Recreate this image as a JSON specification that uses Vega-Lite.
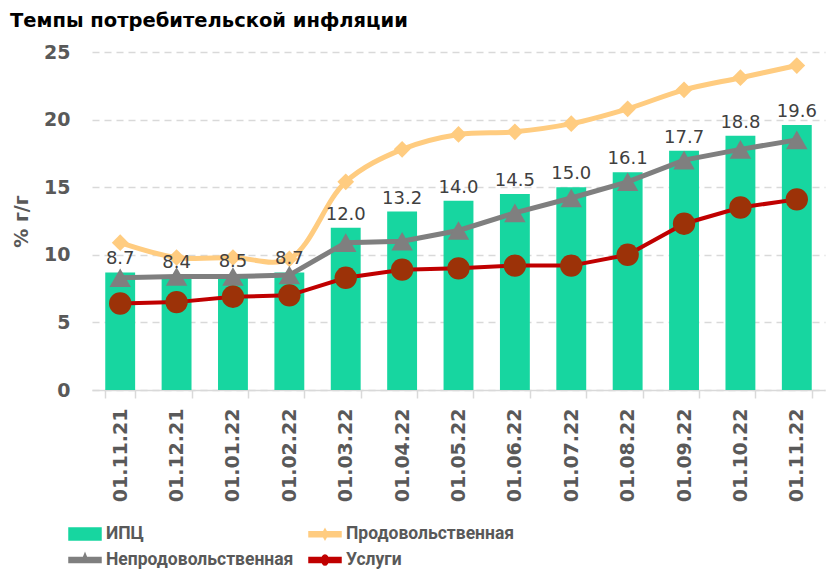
{
  "$schema": "https://vega.github.io/schema/vega-lite/v6.json",
  "width": 733,
  "height": 338,
  "autosize": {"type": "none"},
  "padding": {"left": 92, "top": 52, "right": 2, "bottom": 181},
  "background": "white",
  "title": {
    "text": "Темпы потребительской инфляции",
    "anchor": "start",
    "frame": "group",
    "dx": -82,
    "dy": 10,
    "offset": 22,
    "font": "DejaVu Sans",
    "fontSize": 19.5,
    "fontWeight": "bold",
    "color": "#000000"
  },
  "data": {
    "values": [
      {"d": "01.11.21", "cpi": 8.7, "food": 10.9, "nonfood": 8.3, "serv": 6.4},
      {"d": "01.12.21", "cpi": 8.4, "food": 9.8, "nonfood": 8.4, "serv": 6.5},
      {"d": "01.01.22", "cpi": 8.5, "food": 9.8, "nonfood": 8.4, "serv": 6.9},
      {"d": "01.02.22", "cpi": 8.7, "food": 9.7, "nonfood": 8.5, "serv": 7.0},
      {"d": "01.03.22", "cpi": 12.0, "food": 15.4, "nonfood": 10.9, "serv": 8.3},
      {"d": "01.04.22", "cpi": 13.2, "food": 17.8, "nonfood": 11.0, "serv": 8.9},
      {"d": "01.05.22", "cpi": 14.0, "food": 18.9, "nonfood": 11.8, "serv": 9.0},
      {"d": "01.06.22", "cpi": 14.5, "food": 19.1, "nonfood": 13.1, "serv": 9.2},
      {"d": "01.07.22", "cpi": 15.0, "food": 19.7, "nonfood": 14.2, "serv": 9.2},
      {"d": "01.08.22", "cpi": 16.1, "food": 20.8, "nonfood": 15.4, "serv": 10.0},
      {"d": "01.09.22", "cpi": 17.7, "food": 22.2, "nonfood": 17.0, "serv": 12.3},
      {"d": "01.10.22", "cpi": 18.8, "food": 23.1, "nonfood": 17.8, "serv": 13.5},
      {"d": "01.11.22", "cpi": 19.6, "food": 24.0, "nonfood": 18.5, "serv": 14.1}
    ]
  },
  "encoding": {
    "x": {
      "field": "d",
      "type": "ordinal",
      "sort": null,
      "scale": {"paddingInner": 0.47, "paddingOuter": 0.235},
      "axis": {
        "title": null,
        "labelAngle": 270,
        "labelFont": "DejaVu Sans",
        "labelFontSize": 19,
        "labelFontWeight": "bold",
        "labelColor": "#595959",
        "labelPadding": 10,
        "tickBand": "extent",
        "tickSize": 8,
        "tickColor": "#D9D9D9",
        "tickWidth": 1.5,
        "domainColor": "#D9D9D9",
        "domainWidth": 1.5,
        "grid": false
      }
    }
  },
  "layer": [
    {
      "mark": {"type": "bar"},
      "encoding": {
        "y": {
          "field": "cpi",
          "type": "quantitative",
          "scale": {"domain": [0, 25], "nice": false},
          "axis": {
            "title": "% г/г",
            "values": [0, 5, 10, 15, 20, 25],
            "titleFont": "DejaVu Sans",
            "titleFontSize": 19,
            "titleFontWeight": "bold",
            "titleColor": "#595959",
            "titlePadding": 12,
            "labelFont": "DejaVu Sans",
            "labelFontSize": 19,
            "labelFontWeight": "bold",
            "labelColor": "#595959",
            "labelPadding": 22,
            "ticks": false,
            "domain": false,
            "grid": true,
            "gridColor": "#D9D9D9",
            "gridWidth": 1.5,
            "gridDash": [7, 5]
          }
        },
        "color": {
          "datum": "ИПЦ",
          "legend": {
            "encode": {
              "symbols": {
                "update": {
                  "shape": {"signal": "datum.value === 'ИПЦ' ? 'M-1,-0.375H1V0.375H-1Z' : datum.value === 'Продовольственная' ? 'M-1,-0.15H1V0.15H-1Z M0,-0.32L0.18,0L0,0.32L-0.18,0Z' : datum.value === 'Непродовольственная' ? 'M-1,-0.15H1V0.15H-1Z M0,-0.4L0.16,0L-0.16,0Z' : 'M-1,-0.15H1V0.15H-1Z M0.2,0A0.2,0.32 0 1 1 -0.2,0A0.2,0.32 0 1 1 0.2,0Z'"},
                  "fill": {"signal": "datum.value === 'Услуги' ? '#C00000' : scale('color', datum.value)"},
                  "stroke": {"value": "transparent"},
                  "opacity": {"value": 1},
                  "fillOpacity": {"value": 1}
                }
              }
            }
          }
        }
      }
    },
    {
      "mark": {"type": "line", "interpolate": "catmull-rom", "strokeWidth": 5},
      "encoding": {"y": {"field": "food", "type": "quantitative", "scale": {"domain": [0, 25], "nice": false}}, "color": {"datum": "Продовольственная"}}
    },
    {
      "mark": {"type": "point", "shape": "diamond", "filled": true, "opacity": 1, "size": 280, "color": "#FFCC80"},
      "encoding": {"y": {"field": "food", "type": "quantitative", "scale": {"domain": [0, 25], "nice": false}}}
    },
    {
      "mark": {"type": "line", "strokeWidth": 5},
      "encoding": {"y": {"field": "nonfood", "type": "quantitative", "scale": {"domain": [0, 25], "nice": false}}, "color": {"datum": "Непродовольственная"}}
    },
    {
      "mark": {"type": "point", "shape": "triangle-up", "filled": true, "opacity": 1, "size": 460, "color": "#7F7F7F"},
      "encoding": {"y": {"field": "nonfood", "type": "quantitative", "scale": {"domain": [0, 25], "nice": false}}}
    },
    {
      "mark": {"type": "line", "strokeWidth": 4},
      "encoding": {"y": {"field": "serv", "type": "quantitative", "scale": {"domain": [0, 25], "nice": false}}, "color": {"datum": "Услуги"}}
    },
    {
      "mark": {"type": "point", "shape": "circle", "filled": true, "opacity": 1, "size": 500, "color": "#9C3208"},
      "encoding": {"y": {"field": "serv", "type": "quantitative", "scale": {"domain": [0, 25], "nice": false}}}
    },
    {
      "mark": {"type": "text", "baseline": "bottom", "dy": -4, "font": "DejaVu Sans", "fontSize": 18, "color": "#404040"},
      "encoding": {
        "y": {"field": "cpi", "type": "quantitative", "scale": {"domain": [0, 25], "nice": false}},
        "text": {"field": "cpi", "type": "quantitative", "format": ".1f"}
      }
    }
  ],
  "resolve": {"scale": {"color": "shared"}},
  "config": {
    "view": {"stroke": null},
    "range": {"category": ["#17D6A0", "#FFCC80", "#7F7F7F", "#C00000"]},
    "legend": {
      "orient": "none",
      "legendX": -24,
      "legendY": 465,
      "direction": "horizontal",
      "columns": 2,
      "columnPadding": 12,
      "rowPadding": -1,
      "title": null,
      "symbolSize": 1024,
      "labelFont": "Roboto",
      "labelFontSize": 17.5,
      "labelFontWeight": "bold",
      "labelColor": "#595959",
      "labelOffset": 4,
      "labelLimit": 300
    }
  }
}
